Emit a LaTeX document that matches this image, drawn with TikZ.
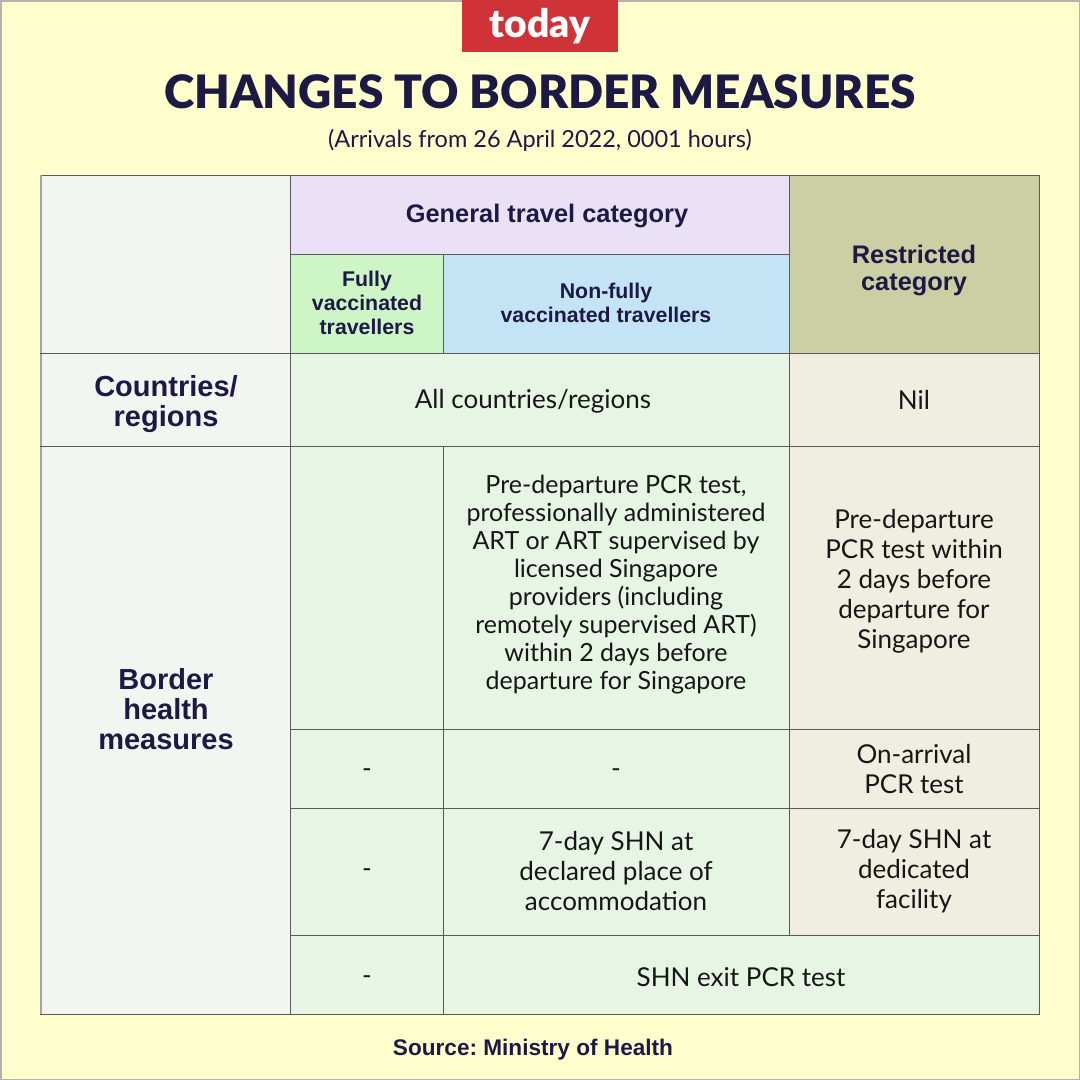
\documentclass[tikz,border=0pt]{standalone}
\usepackage{fontspec}
\setmainfont{Lato}
\newfontfamily\blackfont{Lato Black}
\newfontfamily\hfont{Liberation Sans}
\definecolor{bgY}{HTML}{FFFECC}
\definecolor{leftG}{HTML}{F3F5F1}
\definecolor{lav}{HTML}{EBE1F6}
\definecolor{fvG}{HTML}{CDF5C6}
\definecolor{nfB}{HTML}{C4E4F6}
\definecolor{olive}{HTML}{CCCEA3}
\definecolor{bodyG}{HTML}{E7F5E5}
\definecolor{restB}{HTML}{F0EEE0}
\definecolor{lineC}{HTML}{5A5A5A}
\definecolor{navy}{HTML}{1C1A45}
\definecolor{logoR}{HTML}{CF3237}
\definecolor{txt}{HTML}{161616}
\frenchspacing
\begin{document}
\begin{tikzpicture}[x=1pt,y=-1pt,
  body/.style={align=center,text=txt,inner sep=0pt,font=\fontsize{25}{28}\selectfont},
  bodyL/.style={align=center,text=txt,inner sep=0pt,font=\fontsize{26}{30}\selectfont},
  hdS/.style={align=center,text=navy,inner sep=0pt,font=\fontsize{21.3}{24}\selectfont\hfont\bfseries},
  hdM/.style={align=center,text=navy,inner sep=0pt,font=\fontsize{25.4}{27}\selectfont\hfont\bfseries},
  hdL/.style={align=center,text=navy,inner sep=0pt,font=\fontsize{29}{29.5}\selectfont\hfont\bfseries},
  grid/.style={draw=lineC,line width=1pt}]
\useasboundingbox (0,0) rectangle (1080,1080);
\fill[bgY] (0,0) rectangle (1080,1080);
\draw[draw=black!30,line width=1.5pt] (0.75,0.75) rectangle (1079.25,1079.25);
% logo
\fill[logoR] (462,0) rectangle (618,52);
\node (logo) at (540,26) [text=white,inner sep=0pt,font=\fontsize{39}{39}\selectfont\blackfont] {today};
% title
\node (title) at (540,92) [text=navy,inner sep=0pt,font=\fontsize{46}{46}\selectfont\blackfont] {CHANGES TO BORDER MEASURES};
\node (sub) at (540,140) [text=navy,inner sep=0pt,font=\fontsize{23.5}{26}\selectfont] {(Arrivals from 26 April 2022, 0001 hours)};
% fills
\fill[leftG] (40,175) rectangle (290,1014);
\fill[lav] (290,175) rectangle (789,254);
\fill[fvG] (290,254) rectangle (443,353);
\fill[nfB] (443,254) rectangle (789,353);
\fill[olive] (789,175) rectangle (1039,353);
\fill[bodyG] (290,353) rectangle (789,1014);
\fill[restB] (789,353) rectangle (1039,935);
\fill[bodyG] (789,935) rectangle (1039,1014);
% grid
\draw[grid] (40,175) rectangle (1039,1014);
\draw[draw=black!35,line width=2pt] (41,175) -- (41,1014);
\draw[grid] (290,175) -- (290,1014);
\draw[grid] (443,254) -- (443,353);
\draw[grid] (443,446) -- (443,1014);
\draw[grid] (789,175) -- (789,935);
\draw[grid] (290,254) -- (789,254);
\draw[grid] (40,353) -- (1039,353);
\draw[grid] (40,446) -- (1039,446);
\draw[grid] (290,729) -- (1039,729);
\draw[grid] (290,808) -- (1039,808);
\draw[grid] (290,935) -- (1039,935);
% header text
\node (gen) at (547,216) [hdM] {General travel category};
\node (fv) at (367,303) [hdS] {Fully\\vaccinated\\travellers};
\node (nf) at (606,303) [hdS] {Non-fully\\vaccinated travellers};
\node (rc) at (914,270) [hdM] {Restricted\\category};
% row 1
\node (cr) at (166,404) [hdL] {Countries/\\regions};
\node (all) at (533,401) [bodyL] {All countries/regions};
\node (nil) at (914,400) [bodyL] {Nil};
% row 2
\node (bhm) at (166,709) [hdL,font=\fontsize{29}{30}\selectfont\hfont\bfseries] {Border\\health\\measures};
\node (pdt) at (616,585) [body] {Pre-departure PCR test,\\professionally administered\\ART or ART supervised by\\licensed Singapore\\providers (including\\remotely supervised ART)\\within 2 days before\\departure for Singapore};
\node (pdr) at (914,581) [bodyL] {Pre-departure\\PCR test within\\2 days before\\departure for\\Singapore};
% row 3
\node (d1) at (367,773) [bodyL] {-};
\node (d2) at (616,773) [bodyL] {-};
\node (oa) at (914,769) [bodyL] {On-arrival\\PCR test};
% row 4
\node (d3) at (367,873) [bodyL] {-};
\node (shn1) at (616,871) [bodyL] {7-day SHN at\\declared place of\\accommodation};
\node (shn2) at (914,871) [bodyL] {7-day SHN at\\dedicated\\facility};
% row 5
\node (d4) at (367,980) [bodyL] {-};
\node (exit) at (741,977) [bodyL] {SHN exit PCR test};
% source
\node (src) at (533,1050) [text=navy,inner sep=0pt,font=\fontsize{22.6}{26}\selectfont\hfont\bfseries] {Source: Ministry of Health};
\end{tikzpicture}
\end{document}
